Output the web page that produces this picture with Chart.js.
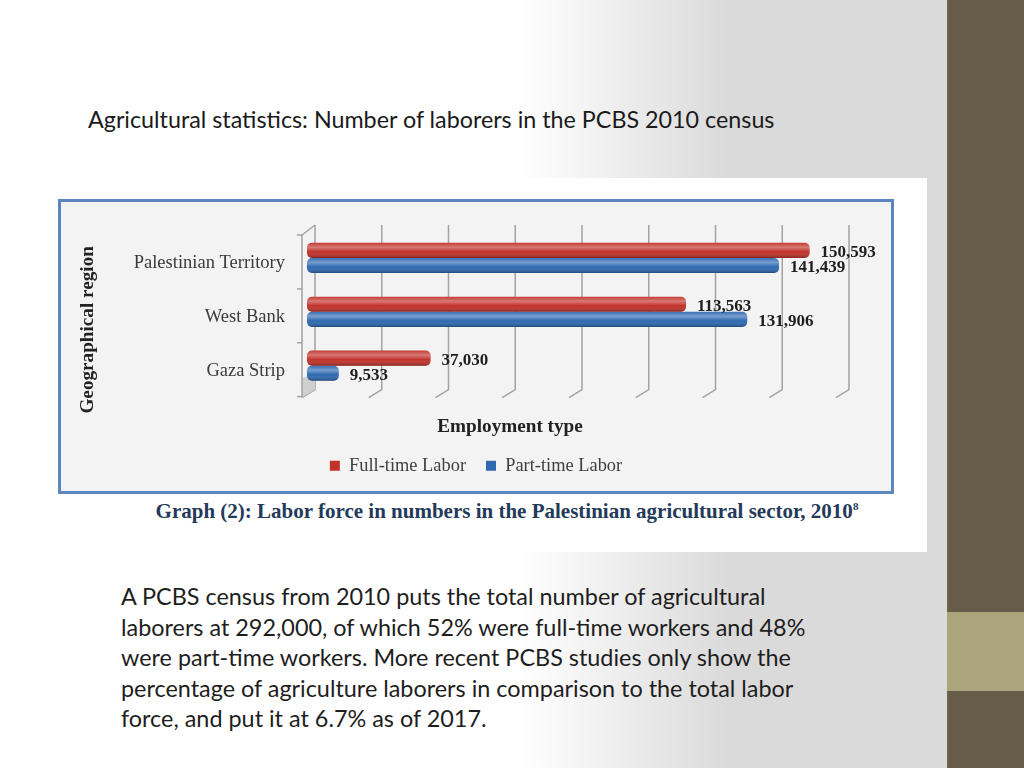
<!DOCTYPE html>
<html>
<head>
<meta charset="utf-8">
<script src="https://cdn.jsdelivr.net/npm/chart.js@4.4.1/dist/chart.umd.min.js"></script>
<style>
  html, body { margin: 0; padding: 0; }
  body {
    width: 1024px; height: 768px; position: relative; overflow: hidden;
    background: linear-gradient(90deg, #ffffff 0px, #ffffff 520px, #dadada 730px, #dadada 1024px);
    font-family: Lato, "Open Sans", sans-serif;
  }
  .sidebar { position: absolute; left: 947px; top: 0; width: 77px; height: 768px; background: #665c47; border-left: 2px solid #6f644b; box-sizing: border-box; }
  .band { position: absolute; left: 947px; top: 612px; width: 77px; height: 79px; background: #aba57e; }
  h1 { position: absolute; left: 88px; top: 104px; margin: 0; font-weight: normal; font-size: 23.3px; line-height: 30px; color: #1a1a1a; white-space: nowrap; }
  .figure { position: absolute; left: 55px; top: 178px; width: 872px; height: 374px; background: #fff; }
  .frame { position: absolute; left: 3px; top: 21px; width: 830px; height: 289px; border: 3px solid #5b86bf; background: #f3f3f3; }
  .frame canvas { display: block; }
  .caption { position: absolute; left: 16px; top: 316px; width: 872px; text-align: center; font-family: "Liberation Serif", serif; font-weight: bold; font-size: 21px; line-height: 24px; color: #243a5a; white-space: nowrap; }
  .caption sup { font-size: 11px; }
  p { position: absolute; left: 121px; top: 581px; margin: 0; font-size: 23.4px; line-height: 30.5px; color: #1e1e1e; white-space: nowrap; }
</style>
</head>
<body>
<div class="sidebar"></div>
<div class="band"></div>
<h1>Agricultural statistics: Number of laborers in the PCBS 2010 census</h1>
<div class="figure">
  <div class="frame"><canvas id="laborChart" width="830" height="289"></canvas></div>
  <div class="caption">Graph (2): Labor force in numbers in the Palestinian agricultural sector, 2010<sup>8</sup></div>
</div>
<p>A PCBS census from 2010 puts the total number of agricultural<br>
laborers at 292,000, of which 52% were full-time workers and 48%<br>
were part-time workers. More recent PCBS studies only show the<br>
percentage of agriculture laborers in comparison to the total labor<br>
force, and put it at 6.7% as of 2017.</p>

<script>
const regions = ['Palestinian Territory', 'West Bank', 'Gaza Strip'];
const fullTime = [150593, 113563, 37030];
const partTime = [141439, 131906, 9533];
const seriesLabels = ['Full-time Labor', 'Part-time Labor'];
const seriesColors = ['#c1322b', '#2e69b1'];
const axisMax = 160000;
const axisStep = 20000;
const yTitle = 'Geographical region';
const xTitle = 'Employment type';

const serif = '"Liberation Serif", "Times New Roman", serif';

// fake 3-D back grid and side wall
const grid3d = {
  id: 'grid3d',
  beforeDatasetsDraw(chart) {
    const { ctx, chartArea: a, scales: { x } } = chart;
    const x0 = x.getPixelForValue(0);
    ctx.save();
    ctx.strokeStyle = '#a3a3a3';
    ctx.lineWidth = 1.5;
    x.ticks.forEach(t => {
      const xb = x.getPixelForValue(t.value) + 8;
      ctx.beginPath();
      ctx.moveTo(xb, a.top - 6);
      ctx.lineTo(xb, a.bottom - 3);
      ctx.lineTo(xb - 13, a.bottom + 5);
      ctx.stroke();
    });
    // floor shading at bottom of the wall
    ctx.fillStyle = '#cfcfcf';
    ctx.beginPath();
    ctx.moveTo(x0 - 5, a.bottom - 14);
    ctx.lineTo(x0 + 8, a.bottom - 20);
    ctx.lineTo(x0 + 8, a.bottom - 3);
    ctx.lineTo(x0 - 5, a.bottom + 5);
    ctx.closePath();
    ctx.fill();
    // wall edge
    ctx.beginPath();
    ctx.moveTo(x0 + 8, a.top - 6);
    ctx.lineTo(x0 - 5, a.top + 4);
    ctx.lineTo(x0 - 5, a.bottom + 5);
    ctx.stroke();
    const band = (a.bottom - a.top) / regions.length;
    for (let i = 0; i <= regions.length; i++) {
      const yy = a.top + 4 + i * band;
      ctx.beginPath();
      ctx.moveTo(x0 - 10, yy);
      ctx.lineTo(x0 - 5, yy);
      ctx.stroke();
    }
    ctx.restore();
  }
};

// cylinder-ish shading over each bar
const cylinder = {
  id: 'cylinder',
  afterDatasetsDraw(chart) {
    const ctx = chart.ctx;
    chart.data.datasets.forEach((ds, i) => {
      chart.getDatasetMeta(i).data.forEach(bar => {
        const { x, y, base, height } = bar.getProps(['x', 'y', 'base', 'height'], true);
        const top = y - height / 2;
        const g = ctx.createLinearGradient(0, top, 0, top + height);
        g.addColorStop(0, 'rgba(255,255,255,0.05)');
        g.addColorStop(0.3, 'rgba(255,255,255,0.35)');
        g.addColorStop(0.6, 'rgba(255,255,255,0)');
        g.addColorStop(1, 'rgba(0,0,0,0.3)');
        ctx.save();
        ctx.beginPath();
        ctx.roundRect(base, top, x - base, height, 5);
        ctx.fillStyle = g;
        ctx.fill();
        ctx.restore();
      });
    });
  }
};

const valueLabels = {
  id: 'valueLabels',
  afterDatasetsDraw(chart) {
    const ctx = chart.ctx;
    ctx.save();
    ctx.font = 'bold 17px ' + serif;
    ctx.fillStyle = '#1e1e1e';
    ctx.textBaseline = 'middle';
    chart.data.datasets.forEach((ds, i) => {
      chart.getDatasetMeta(i).data.forEach((bar, j) => {
        ctx.fillText(ds.data[j].toLocaleString('en-US'), bar.x + 11, bar.y + 2);
      });
    });
    ctx.restore();
  }
};

const axisTitles = {
  id: 'axisTitles',
  afterDraw(chart) {
    const { ctx, chartArea: a } = chart;
    ctx.save();
    ctx.font = 'bold 19.2px ' + serif;
    ctx.fillStyle = '#222';
    ctx.textAlign = 'center';
    ctx.textBaseline = 'middle';
    ctx.fillText(xTitle, chart.width / 2 + 34, a.bottom + 34);
    ctx.translate(27, (a.top + a.bottom) / 2 + 18);
    ctx.rotate(-Math.PI / 2);
    ctx.fillText(yTitle, 0, 0);
    ctx.restore();
  }
};

new Chart(document.getElementById('laborChart'), {
  type: 'bar',
  data: {
    labels: regions,
    datasets: [fullTime, partTime].map((values, i) => ({
      label: seriesLabels[i],
      data: values,
      backgroundColor: seriesColors[i],
      borderWidth: 0,
      borderRadius: 5,
      borderSkipped: false,
      categoryPercentage: 0.56,
      barPercentage: 1
    }))
  },
  options: {
    indexAxis: 'y',
    responsive: false,
    animation: false,
    layout: { padding: { top: 29, bottom: 6, left: 0, right: 0 } },
    plugins: {
      legend: {
        position: 'bottom',
        labels: { boxWidth: 10, boxHeight: 10, padding: 20, color: '#404040', font: { family: serif, size: 18.4 } }
      },
      tooltip: { enabled: false }
    },
    scales: {
      x: {
        min: 0, max: axisMax,
        ticks: { display: false, stepSize: axisStep },
        grid: { display: false },
        border: { display: false },
        afterFit: s => { s.height = 44; }
      },
      y: {
        ticks: { padding: 14, labelOffset: 5, color: '#3a3a3a', font: { family: serif, size: 18.5 } },
        grid: { display: false },
        border: { display: false },
        afterFit: s => { s.width = 246; }
      },
      // empty right axis only to leave room for the value labels
      yRight: {
        type: 'linear', position: 'right', axis: 'y',
        ticks: { display: false },
        grid: { display: false },
        border: { display: false },
        afterFit: s => { s.width = 50; }
      }
    }
  },
  plugins: [grid3d, cylinder, valueLabels, axisTitles]
});
</script>
</body>
</html>
